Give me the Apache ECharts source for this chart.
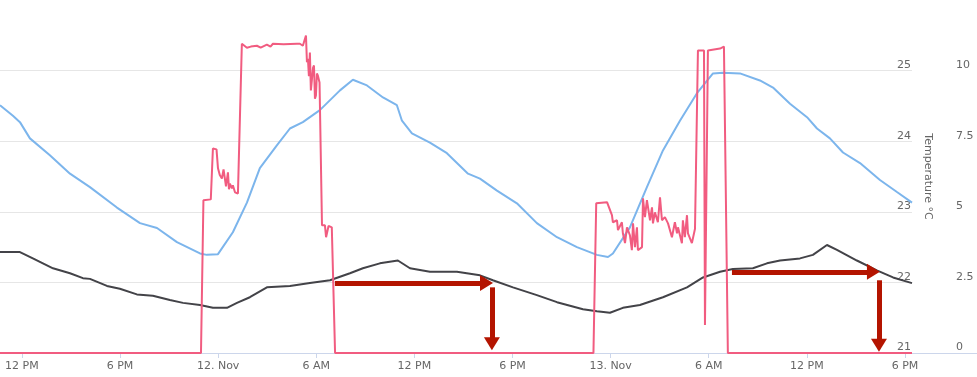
<!DOCTYPE html>
<html>
<head>
<meta charset="utf-8">
<script src="https://cdn.jsdelivr.net/npm/echarts@6/dist/echarts.min.js"></script>
<style>html,body{margin:0;padding:0;background:#fff;}#c{width:977px;height:377px;}</style>
</head>
<body>
<div id="c"></div>
<script>
// x values are hours since 11 Nov 00:00
const tickHours = [12, 18, 24, 30, 36, 42, 48, 54, 60, 66];
const tickLabels = ['12 PM', '6 PM', '12. Nov', '6 AM', '12 PM', '6 PM', '13. Nov', '6 AM', '12 PM', '6 PM'];
const tempTicks = [21, 22, 23, 24, 25];
const rightTicks = [0, 2.5, 5, 7.5, 10];

// light blue temperature (°C)
const blueTemp = [[10.66,24.51],[11.45,24.36],[11.88,24.27],[12.49,24.04],[13.71,23.80],[14.94,23.54],[16.16,23.35],[17.81,23.06],[19.22,22.84],[20.26,22.77],[21.48,22.57],[22.89,22.41],[23.31,22.39],[23.99,22.40],[24.90,22.71],[25.76,23.13],[26.55,23.62],[27.59,23.94],[28.39,24.18],[29.18,24.27],[30.22,24.44],[31.45,24.72],[32.24,24.87],[33.10,24.79],[34.08,24.62],[34.93,24.51],[35.24,24.29],[35.85,24.11],[36.95,23.98],[37.99,23.83],[39.28,23.54],[40.01,23.47],[41.05,23.30],[42.27,23.12],[43.49,22.84],[44.72,22.64],[45.94,22.50],[47.16,22.39],[47.84,22.36],[48.14,22.41],[49.18,22.78],[50.22,23.35],[51.20,23.87],[52.24,24.29],[53.28,24.68],[54.26,24.96],[54.87,24.97],[55.91,24.96],[57.13,24.86],[57.93,24.76],[58.97,24.53],[60.01,24.34],[60.62,24.18],[61.41,24.04],[62.21,23.84],[63.25,23.69],[64.47,23.45],[65.51,23.28],[66.43,23.13]];

// dark temperature (°C)
const darkTemp = [[10.66,22.43],[11.88,22.43],[12.67,22.34],[13.90,22.20],[14.94,22.13],[15.73,22.06],[16.16,22.05],[17.20,21.95],[17.99,21.91],[19.03,21.83],[20.01,21.81],[21.05,21.75],[21.85,21.71],[22.89,21.68],[23.68,21.64],[24.54,21.64],[25.15,21.71],[25.94,21.79],[26.98,21.93],[28.39,21.95],[29.61,21.99],[30.84,22.03],[32.06,22.13],[32.85,22.20],[33.89,22.27],[34.99,22.31],[35.73,22.20],[36.95,22.15],[38.60,22.15],[40.01,22.10],[40.80,22.03],[42.03,21.93],[43.49,21.82],[44.72,21.72],[46.31,21.62],[47.16,21.59],[47.96,21.57],[48.75,21.64],[49.79,21.68],[51.20,21.79],[52.67,21.93],[53.65,22.07],[54.69,22.15],[55.48,22.19],[56.70,22.20],[57.56,22.27],[58.36,22.31],[59.58,22.34],[60.37,22.39],[61.23,22.53],[61.84,22.46],[63.06,22.31],[64.28,22.17],[65.27,22.07],[66.43,21.99]];

// pink series (right axis 0–10)
const pinkValues = [[10.66,0],[22.95,0],[23.10,5.41],[23.55,5.44],[23.62,5.48],[23.68,7.24],[23.90,7.21],[23.99,6.54],[24.10,6.30],[24.23,6.18],[24.33,6.50],[24.41,6.54],[24.48,5.90],[24.54,5.94],[24.60,6.40],[24.66,5.80],[24.72,6.00],[24.84,5.83],[24.90,5.94],[25.03,5.69],[25.21,5.65],[25.33,5.65],[25.45,10.95],[25.76,10.81],[26.00,10.85],[26.37,10.88],[26.60,10.81],[26.98,10.92],[27.20,10.85],[27.35,10.95],[28.00,10.93],[28.82,10.95],[29.00,10.95],[29.18,10.88],[29.30,10.95],[29.37,11.24],[29.43,10.30],[29.49,10.42],[29.55,9.80],[29.61,10.64],[29.67,9.30],[29.73,9.65],[29.80,10.10],[29.86,10.18],[29.92,9.00],[29.98,9.12],[30.04,9.90],[30.10,9.82],[30.20,9.58],[30.29,9.58],[30.35,4.52],[30.53,4.52],[30.60,4.10],[30.66,4.10],[30.75,4.50],[30.84,4.52],[30.95,4.45],[31.15,0],[46.95,0],[47.12,5.30],[47.78,5.34],[47.84,5.41],[48.08,4.88],[48.14,4.63],[48.39,4.70],[48.45,4.35],[48.69,4.63],[48.75,4.24],[48.88,3.89],[49.00,4.45],[49.18,4.17],[49.30,3.64],[49.37,4.59],[49.49,3.75],[49.61,4.45],[49.67,3.64],[49.92,3.75],[49.98,5.48],[50.10,4.81],[50.22,5.41],[50.41,4.70],[50.53,5.16],[50.59,4.59],[50.71,4.98],[50.89,4.63],[51.02,5.51],[51.14,4.70],[51.32,4.81],[51.51,4.59],[51.75,4.10],[51.93,4.63],[52.06,4.24],[52.12,4.45],[52.36,3.89],[52.42,4.70],[52.54,4.10],[52.67,4.88],[52.73,4.24],[52.97,3.89],[53.16,4.40],[53.28,4.45],[53.34,10.71],[53.71,10.71],[53.77,0.99],[53.89,0.99],[53.95,10.71],[54.07,10.74],[54.69,10.78],[54.93,10.85],[54.99,10.81],[55.17,0],[66.43,0]];

// red annotation arrows: [startHour, startTemp, headCentreHour, headCentreTemp]
const arrows = [[31.14,21.99,40.41,21.99],[40.74,21.93,40.74,21.13],[55.42,22.15,64.07,22.15],[64.41,22.03,64.41,21.11]];

const FONT = 'DejaVu Sans';
const chart = echarts.init(document.getElementById('c'), null, {renderer: 'canvas'});
chart.setOption({
  animation: false,
  grid: {left: 0, right: 65, top: 0, bottom: 24, containLabel: false},
  xAxis: {
    type: 'value', min: 10.66, max: 66.43,
    axisLine: {show: true, lineStyle: {color: '#ccd6eb', width: 1}},
    axisTick: {show: true, length: 5, lineStyle: {color: '#ccd6eb'}, customValues: tickHours},
    axisLabel: {color: '#666666', fontSize: 11, fontFamily: FONT, margin: 8, customValues: tickHours,
      formatter: v => { const i = tickHours.indexOf(Math.round(v)); return i >= 0 ? tickLabels[i] : ''; }},
    splitLine: {show: false}
  },
  yAxis: [
    {
      type: 'value', position: 'right', min: tempTicks[0], max: 26, interval: 1,
      name: 'Temperature °C', nameLocation: 'middle', nameRotate: -90, nameGap: 7,
      nameTextStyle: {color: '#666666', fontSize: 11, fontFamily: FONT},
      axisLine: {show: false}, axisTick: {show: false},
      axisLabel: {inside: true, margin: 1, color: '#666666', fontSize: 11, fontFamily: FONT, verticalAlign: 'bottom', showMaxLabel: false},
      splitLine: {show: true, showMaxLine: false, lineStyle: {color: '#e6e6e6', width: 1}}
    },
    {
      type: 'value', position: 'right', min: rightTicks[0], max: 12.5, interval: 2.5,
      axisLine: {show: false}, axisTick: {show: false},
      axisLabel: {margin: 44, align: 'left', color: '#666666', fontSize: 11, fontFamily: FONT, verticalAlign: 'bottom', showMaxLabel: false},
      splitLine: {show: false}
    }
  ],
  series: [
    {type: 'line', yAxisIndex: 0, data: blueTemp, showSymbol: false, lineStyle: {color: '#7cb5ec', width: 2}, itemStyle: {color: '#7cb5ec'}},
    {type: 'line', yAxisIndex: 0, data: darkTemp, showSymbol: false, lineStyle: {color: '#434348', width: 2}, itemStyle: {color: '#434348'}},
    {type: 'line', yAxisIndex: 1, data: pinkValues, showSymbol: false, clip: false, lineStyle: {color: '#f15c80', width: 2}, itemStyle: {color: '#f15c80'}},
    {type: 'line', yAxisIndex: 0, data: [], showSymbol: false,
      markLine: {silent: true, symbol: ['none', 'triangle'], symbolSize: [16, 13], label: {show: false},
        lineStyle: {color: '#b41400', width: 5, type: 'solid'},
        data: arrows.map(a => [{coord: [a[0], a[1]]}, {coord: [a[2], a[3]]}])}
    }
  ],
  graphic: [{type: 'line', shape: {x1: 912, y1: 353.5, x2: 977, y2: 353.5}, style: {stroke: '#ccd6eb', lineWidth: 1}, silent: true}]
});
</script>
</body>
</html>
